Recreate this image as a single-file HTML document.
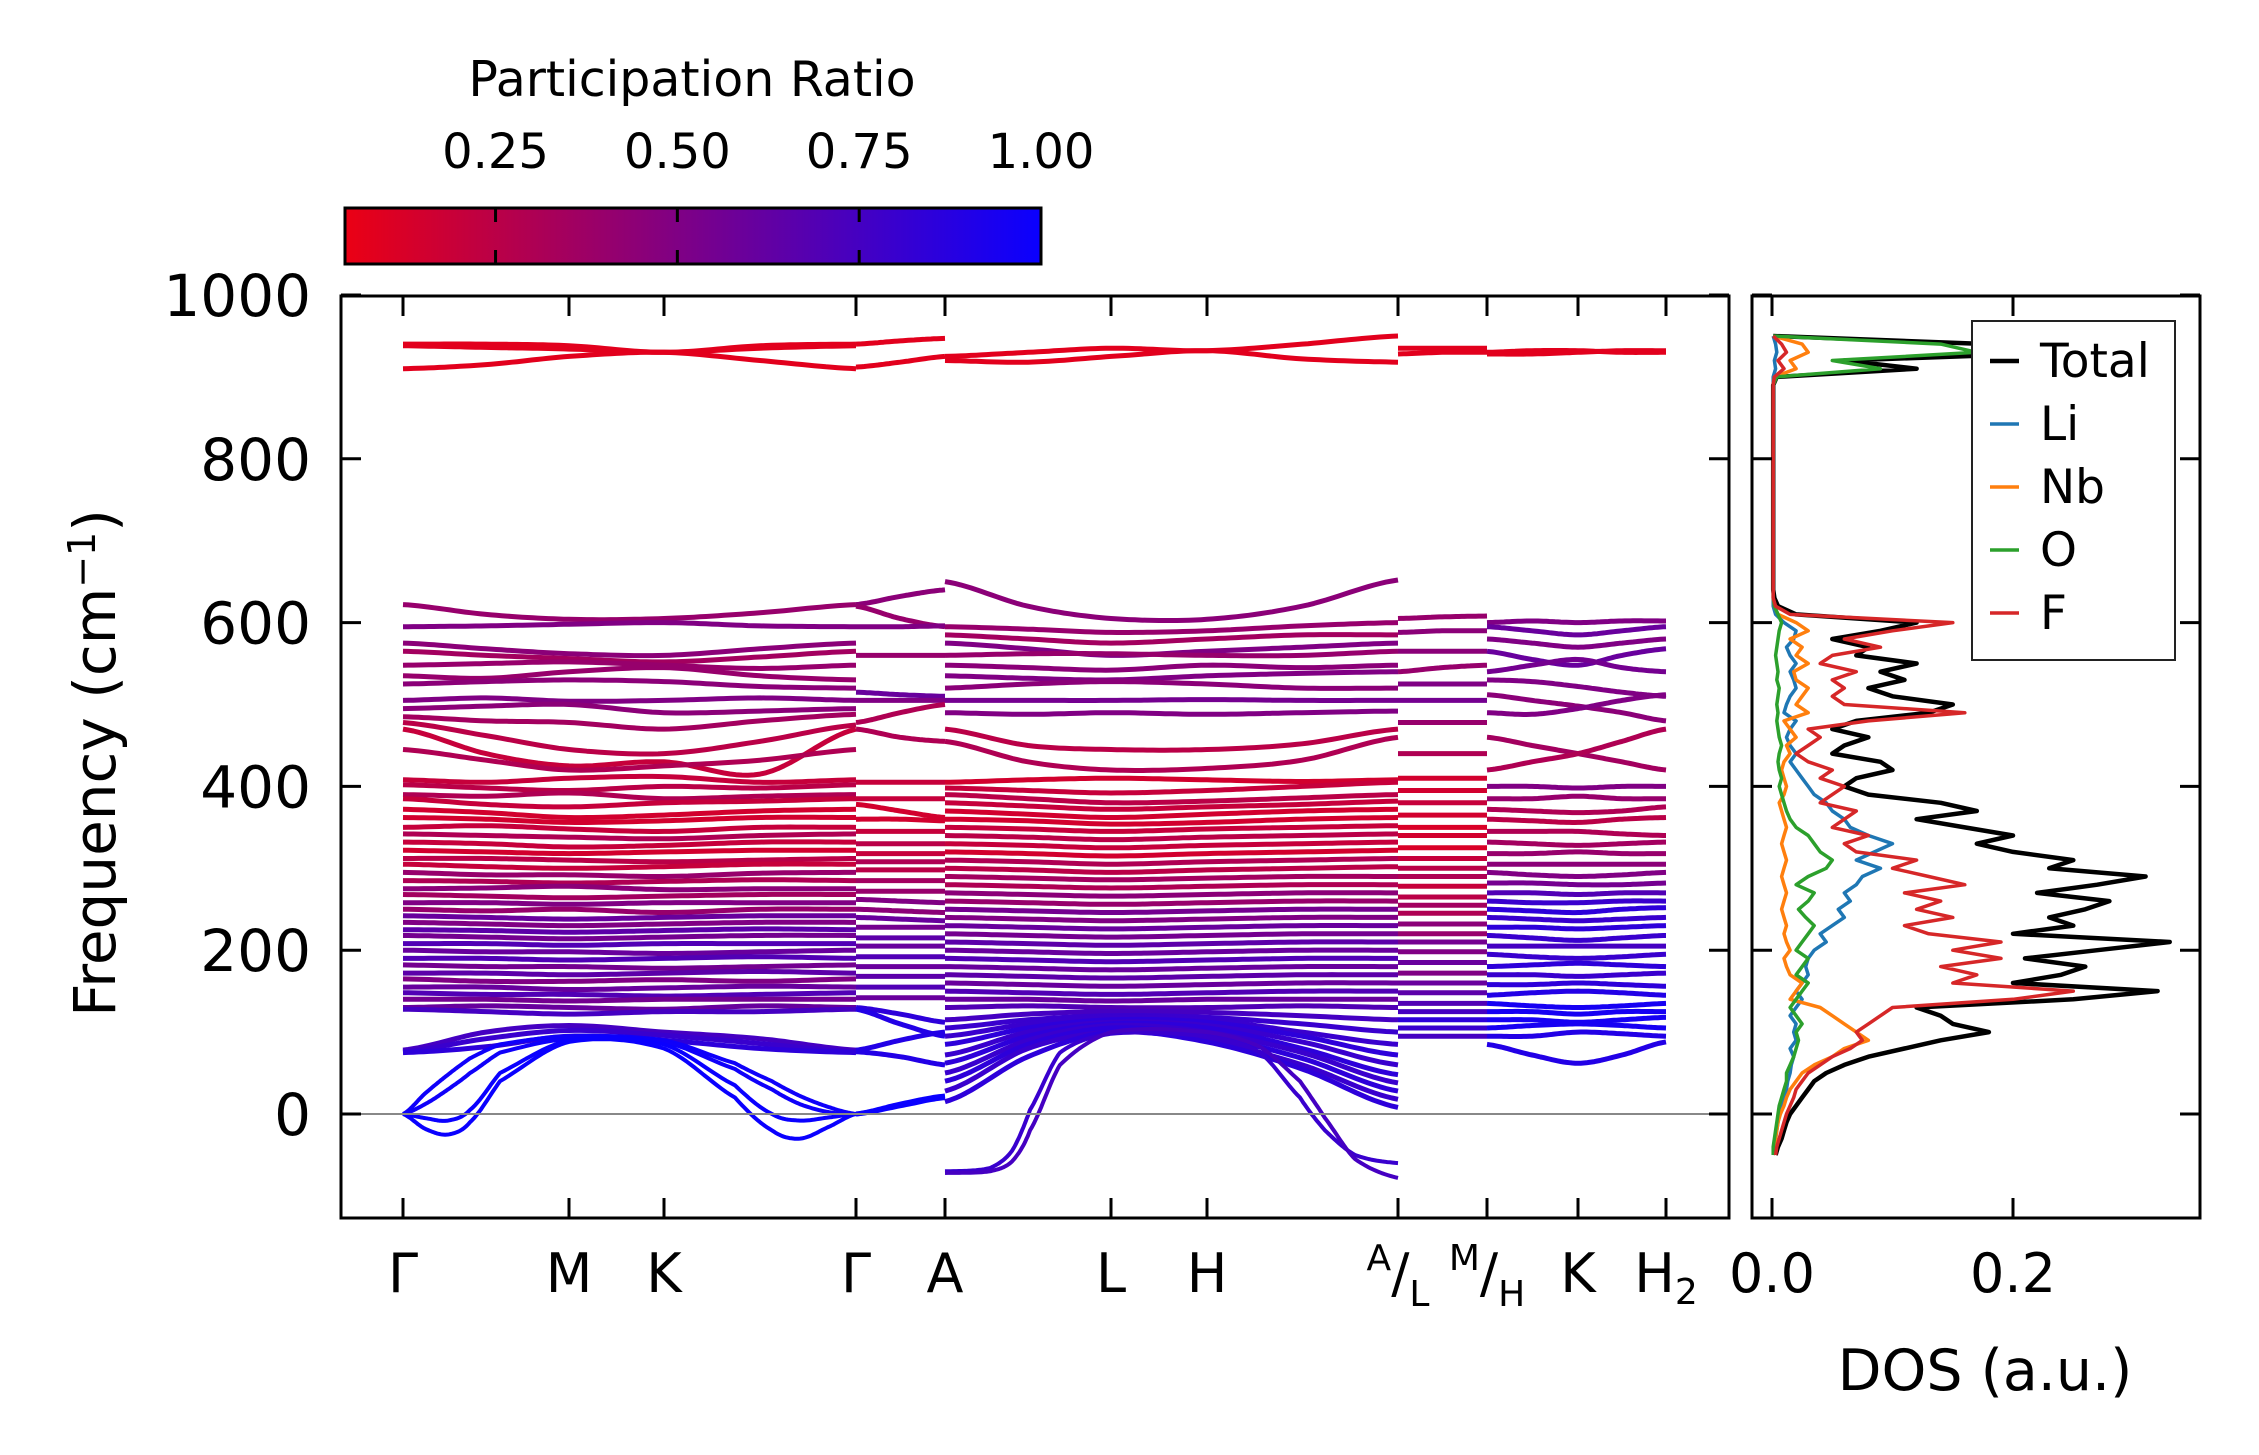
<!DOCTYPE html>
<html><head><meta charset="utf-8"><title>Phonon bands and DOS</title>
<style>
html,body{margin:0;padding:0;background:#fff;}
svg{display:block;font-family:"DejaVu Sans","Liberation Sans",sans-serif;}
</style></head>
<body>
<svg id="fig" width="2259" height="1455" viewBox="0 0 2259 1455" xmlns="http://www.w3.org/2000/svg">
<defs>
<linearGradient id="cbgrad" x1="0" x2="1" y1="0" y2="0">
<stop offset="0" stop-color="rgb(235,0,20)"/><stop offset="1" stop-color="rgb(10,0,255)"/>
</linearGradient>
<clipPath id="mainclip"><rect x="342" y="297" width="1387" height="919"/></clipPath>
<clipPath id="dosclip"><rect x="1753" y="297" width="446" height="919"/></clipPath>
</defs>
<g>
<text x="692" y="96" font-size="49" text-anchor="middle">Participation Ratio</text>
<rect x="345" y="208" width="696" height="56" fill="url(#cbgrad)" stroke="#000" stroke-width="3"/>
<g id="cbticks"></g>
</g>
<g id="main">
<g id="bands" clip-path="url(#mainclip)"></g>
<g id="mainaxes"></g>
</g>
<g id="dos">
<g id="dosl" clip-path="url(#dosclip)"></g>
<g id="dosaxes"></g>
<g>
<rect x="1972" y="321" width="203" height="339" fill="#fff" stroke="#222" stroke-width="2"/>
<g id="legend"></g>
</g>
</g>
<text x="115" y="763" font-size="58" text-anchor="middle" transform="rotate(-90 115 763)">Frequency (cm<tspan dy="-20" font-size="38">−1</tspan><tspan dy="20">)</tspan></text>
<text x="1985" y="1390" font-size="57" text-anchor="middle">DOS (a.u.)</text>
</svg>
<script>
// ---------- data ----------
const pathTicks = [403,569,664,856,945,1111,1207,1398,1487,1578,1666];
const pathLabels = ["Γ","M","K","Γ","A","L","H","A/L","M/H","K","H2"];
const yTicks = [0,200,400,600,800,1000];
const cbTicks = [0.25,0.5,0.75,1.0];
const cbTickLabels = ["0.25","0.50","0.75","1.00"];
const segNodes1 = [403,486,569,664,760,856];
const segNodes1a = [403,425,448,470,500,569,664,735,772,800,830,856];
const segNodes2 = [856,900,945];
const segNodes3 = [945,1028,1111,1207,1302,1398];
const segNodes3b = [945,990,1012,1030,1060,1111,1207,1260,1300,1325,1355,1398];
const segNodes4 = [1398,1442,1487];
const segNodes5 = [1487,1532,1578,1622,1666];
// each band: frequencies at nodes, last value = participation ratio
const seg1 = [
[940,940,938,930,938,940,.08],[938,936,934,930,935,938,.08],[910,915,925,930,920,910,.08],
[622,610,604,605,612,622,.4],[595,596,598,600,596,595,.5],[575,568,562,560,568,575,.45],
[565,560,556,552,558,565,.35],[548,550,552,548,544,548,.4],[535,532,540,545,535,530,.4],
[525,528,530,528,522,520,.45],[505,508,504,505,508,505,.5],[495,498,500,490,492,495,.45],
[485,480,478,470,480,488,.35],[478,462,445,440,455,475,.25],[470,440,425,430,415,470,.2],
[445,432,420,425,432,445,.3],[408,405,410,412,405,408,.2],[402,398,395,400,398,402,.25],
[390,388,392,385,388,390,.3],[385,378,375,380,382,385,.2],[372,368,362,365,370,372,.15],
[362,360,356,358,362,362,.15],[350,352,348,345,350,350,.2],[342,340,338,336,340,342,.3],
[332,330,326,328,332,332,.2],[322,320,318,320,322,322,.15],[312,312,310,308,310,312,.25],
[305,302,300,302,305,305,.2],[295,292,292,290,294,295,.4],[285,284,282,284,286,285,.3],
[275,276,278,274,275,275,.45],[268,266,264,266,268,268,.35],[258,258,256,258,258,258,.5],
[250,248,250,246,250,250,.4],[242,240,238,240,242,242,.6],[234,232,230,232,234,234,.5],
[225,224,222,224,226,225,.65],[218,216,214,216,218,218,.55],[208,208,206,208,208,208,.7],
[200,198,198,196,198,200,.6],[190,190,188,190,192,190,.7],[182,180,180,178,180,182,.55],
[172,172,170,172,174,172,.65],[165,162,162,164,162,165,.5],[155,155,152,154,156,155,.6],
[148,146,146,144,146,148,.7],[140,140,138,140,140,140,.55],[130,132,130,128,132,130,.6],
[128,125,122,125,125,128,.75],[78,100,108,100,92,78,.75],[76,92,102,96,86,76,.8],
[75,82,95,90,80,75,.85]
];
// acoustic branches near Gamma with the small negative loops
const seg1a = [
[0,25,48,68,85,95,90,62,40,22,8,0,.98],
[0,12,30,50,75,92,88,55,30,12,2,0,.98],
[0,-18,-25,-10,40,88,80,20,-20,-30,-15,0,1.0],
[0,-5,-8,5,50,90,85,35,0,-8,-4,0,1.0]
];
const seg2 = [
[940,944,947,.08],[912,918,925,.08],[622,632,640,.45],[620,605,595,.4],[595,595,596,.5],
[560,560,560,.4],[515,512,510,.6],[505,505,505,.5],[478,490,500,.3],[470,460,455,.3],
[405,405,405,.2],[385,385,385,.2],[378,370,362,.15],[360,360,358,.15],[345,345,345,.2],
[330,330,330,.25],[318,318,318,.2],[308,308,308,.3],[298,298,298,.25],[285,285,285,.35],
[272,272,272,.4],[262,260,258,.5],[250,248,246,.45],[240,238,236,.6],[228,228,228,.55],
[215,215,215,.65],[205,205,205,.6],[192,192,192,.7],[180,180,180,.6],[168,168,168,.65],
[155,155,155,.7],[142,142,142,.6],[130,122,112,.85],[128,110,95,.9],[78,90,100,.9],
[76,70,60,.9],[0,12,22,1],[0,10,20,1]
];
const seg3 = [
[925,930,935,932,940,950,.08],[920,918,925,932,922,918,.08],[650,620,605,604,620,652,.45],
[595,592,588,590,596,600,.4],[585,580,575,580,585,585,.35],[575,568,560,565,570,575,.5],
[560,562,562,560,560,565,.4],[548,545,542,548,545,548,.45],[535,532,530,535,538,540,.5],
[520,525,528,525,520,520,.45],[505,505,505,506,505,505,.55],[490,488,490,488,490,492,.5],
[470,450,445,445,452,470,.25],[455,430,420,422,432,460,.3],[405,408,410,408,406,408,.15],
[398,395,392,395,400,405,.2],[390,385,380,382,386,390,.25],[380,376,372,375,378,382,.2],
[370,366,362,366,370,372,.15],[360,358,354,356,360,362,.15],[350,348,345,348,350,352,.2],
[340,338,335,338,340,342,.25],[330,328,325,328,330,332,.2],[320,318,315,318,320,322,.15],
[310,308,305,308,310,312,.3],[300,298,295,298,300,302,.25],[290,288,286,288,290,290,.35],
[280,278,276,278,280,280,.3],[270,268,266,268,270,270,.45],[260,258,256,258,260,260,.4],
[250,248,246,248,250,250,.55],[240,238,236,238,240,240,.5],[230,228,226,228,230,230,.6],
[220,218,216,218,220,220,.55],[210,208,206,208,210,210,.65],[200,198,196,198,200,200,.6],
[190,188,186,188,190,190,.7],[180,178,176,178,180,180,.6],[170,168,166,168,170,170,.65],
[160,158,156,158,160,160,.6],[150,148,146,148,150,150,.7],[140,140,138,140,140,140,.6],
[130,132,130,130,132,130,.7],[115,122,125,124,120,115,.75],[105,115,120,118,110,100,.8],
[95,110,118,115,100,85,.8],[85,105,115,112,95,72,.85],[72,100,112,108,88,60,.8],
[62,95,110,105,80,48,.85],[50,90,108,100,75,38,.8],[40,85,105,95,68,28,.85],
[28,80,100,90,60,18,.8],[15,70,100,88,55,8,.85]
];
// steep negative acoustic branches on A-L-H-A
const seg3b = [
[-70,-66,-45,5,75,98,95,75,20,-20,-50,-60,.8],
[-72,-70,-58,-20,60,100,100,82,40,-5,-55,-78,.75]
];
const seg4 = [
[935,935,935,.08],[928,930,930,.08],[605,607,608,.4],[588,590,590,.45],[565,565,565,.45],
[540,545,548,.4],[525,525,525,.5],[505,505,505,.55],[478,478,478,.4],[440,440,440,.3],
[410,410,410,.15],[395,395,395,.15],[380,380,380,.2],[365,365,365,.15],[350,350,350,.12],
[340,340,340,.15],[325,325,325,.12],[312,312,312,.2],[300,300,300,.25],[290,290,290,.3],
[278,278,278,.2],[265,265,265,.25],[255,255,255,.35],[245,245,245,.3],[232,232,232,.45],
[220,220,220,.4],[210,210,210,.55],[198,198,198,.5],[185,185,185,.6],[172,172,172,.5],
[160,160,160,.6],[148,148,148,.65],[135,135,135,.7],[125,125,125,.75],[115,115,115,.85],
[105,105,105,.8],[95,95,95,.75]
];
const seg5 = [
[930,932,932,930,930,.08],[928,928,930,932,932,.08],[600,602,600,602,602,.5],[595,590,585,590,595,.6],
[580,575,570,575,580,.5],[565,555,548,560,568,.6],[540,548,555,545,540,.55],[530,528,522,515,510,.5],
[512,505,498,490,480,.45],[490,488,495,505,512,.5],[460,450,440,430,420,.35],[420,430,440,455,470,.3],
[400,400,398,400,400,.5],[385,385,388,385,385,.4],[372,370,368,370,375,.3],[360,358,356,360,362,.25],
[345,345,345,342,340,.3],[332,330,328,330,332,.35],[318,318,320,318,318,.4],[305,305,305,305,305,.45],
[295,292,290,292,295,.5],[282,282,280,280,282,.55],[270,270,268,270,270,.7],[260,258,258,260,260,.8],
[250,248,246,250,252,.85],[240,238,236,238,240,.8],[228,228,226,228,230,.85],[218,215,212,215,218,.8],
[205,205,205,205,205,.75],[195,192,190,192,195,.8],[180,182,184,182,180,.85],[170,170,168,170,172,.8],
[158,158,160,158,156,.85],[145,148,150,148,145,.9],[135,132,130,132,135,.95],[125,125,122,125,125,.95],
[115,115,112,115,118,.95],[105,108,110,108,105,.95],[95,95,100,98,95,.9],[85,72,62,72,88,.9]
];
const dosFreqStart = -50, dosFreqStep = 10;
const dosTotal = [.003,.005,.008,.01,.012,
.015,.02,.025,.03,.035,.045,.06,.08,.11,.14,
.18,.15,.14,.12,.25,.32,.2,.24,.26,.21,
.27,.33,.2,.25,.23,.26,.28,.22,.27,.31,
.23,.25,.2,.17,.2,.16,.12,.17,.14,.08,
.06,.07,.1,.09,.05,.06,.08,.05,.07,.13,
.15,.1,.08,.11,.09,.12,.07,.08,.05,.09,
.12,.02,.005,.002,.001,.001,.001,.001,.001,.001,
.001,.001,.001,.001,.001,.001,.001,.001,.001,.001,
.001,.001,.001,.001,.001,.001,.001,.001,.001,.001,
.004,.12,.06,.25,.18,.001];
const dosF = [.003,.004,.006,.008,.01,
.012,.015,.018,.02,.025,.03,.04,.05,.065,.075,
.07,.08,.09,.1,.2,.25,.15,.17,.14,.19,
.15,.19,.13,.11,.15,.12,.14,.11,.16,.13,
.1,.12,.07,.06,.08,.05,.06,.07,.04,.05,
.06,.04,.05,.03,.02,.03,.04,.03,.08,.16,
.06,.05,.06,.05,.07,.04,.05,.09,.06,.1,
.15,.015,.003,.001,.001,.001,.001,.001,.001,.001,
.001,.001,.001,.001,.001,.001,.001,.001,.001,.001,
.001,.001,.001,.001,.001,.001,.001,.001,.001,.001,
.002,.01,.005,.012,.008,.001];
const dosLi = [.001,.002,.003,.004,.005,
.006,.008,.01,.012,.013,.015,.016,.018,.015,.02,
.018,.02,.015,.02,.025,.02,.025,.03,.028,.03,
.035,.045,.04,.05,.06,.055,.065,.06,.07,.075,
.09,.07,.085,.1,.08,.065,.06,.05,.045,.035,
.03,.025,.02,.015,.02,.015,.012,.015,.02,.01,
.012,.015,.02,.018,.015,.02,.015,.012,.018,.02,
.01,.003,.001,.001,.001,.001,.001,.001,.001,.001,
.001,.001,.001,.001,.001,.001,.001,.001,.001,.001,
.001,.001,.001,.001,.001,.001,.001,.001,.001,.001,
.001,.003,.002,.004,.003,.001];
const dosNb = [.001,.002,.003,.004,.005,
.007,.01,.012,.015,.02,.025,.035,.05,.06,.08,
.07,.06,.05,.04,.015,.02,.025,.015,.012,.01,
.015,.012,.01,.012,.01,.008,.01,.012,.01,.008,
.01,.012,.01,.008,.01,.012,.01,.008,.006,.01,
.012,.01,.008,.01,.015,.012,.02,.015,.01,.03,
.02,.025,.03,.02,.018,.03,.02,.025,.015,.03,
.02,.005,.002,.001,.001,.001,.001,.001,.001,.001,
.001,.001,.001,.001,.001,.001,.001,.001,.001,.001,
.001,.001,.001,.001,.001,.001,.001,.001,.001,.001,
.002,.02,.015,.03,.025,.001];
const dosO = [.001,.001,.002,.003,.004,
.005,.006,.008,.01,.012,.012,.015,.018,.02,.022,
.02,.025,.02,.015,.02,.025,.03,.02,.025,.03,
.02,.025,.03,.035,.028,.022,.03,.035,.02,.03,
.045,.05,.04,.035,.03,.02,.015,.012,.01,.008,
.006,.008,.006,.005,.006,.008,.006,.005,.004,.005,
.004,.005,.006,.004,.005,.004,.003,.004,.005,.006,
.008,.005,.002,.001,.001,.001,.001,.001,.001,.001,
.001,.001,.001,.001,.001,.001,.001,.001,.001,.001,
.001,.001,.001,.001,.001,.001,.001,.001,.001,.001,
.004,.09,.05,.17,.14,.001];
const dosXTicks = [0.0,0.2];
const dosXTickLabels = ["0.0","0.2"];
const legendLabels = ["Total","Li","Nb","O","F"];

// ---------- scales ----------
const NS = "http://www.w3.org/2000/svg";
const yScale = f => 1114 - f*0.819;
const dosX = d => 1772 + d*1205;
const cbX = r => 345 + (r-0.043)/0.957*696;
function prColor(r){ const t=Math.max(0,Math.min(1,(r-0.043)/0.957));
  return `rgb(${Math.round(235+(10-235)*t)},0,${Math.round(20+(255-20)*t)})`; }
function mk(tag, attrs, parent){ const e=document.createElementNS(NS,tag); for(const k in attrs) e.setAttribute(k,attrs[k]); parent.appendChild(e); return e; }

// ---------- colorbar ticks ----------
const cbg = document.getElementById('cbticks');
cbTicks.forEach((t,i)=>{
  const x=cbX(t);
  if(t<1){ const l1=mk('line',{x1:x,x2:x,y1:208,y2:222,stroke:'#000','stroke-width':3},cbg);
     
    const l2=mk('line',{x1:x,x2:x,y1:250,y2:264,stroke:'#000','stroke-width':3},cbg);
      }
  const tx=mk('text',{x:x,y:168,'font-size':48,'text-anchor':'middle'},cbg); tx.textContent=cbTickLabels[i];
   
});

// ---------- bands ----------
const bg = document.getElementById('bands');
function drawSeg(nodes, bands, w){
  bands.forEach(b=>{
    const vals=b.slice(0,nodes.length), pr=b[nodes.length];
    const pts=[];
    for(let i=0;i<nodes.length-1;i++){
      const p0=vals[Math.max(0,i-1)], p1=vals[i], p2=vals[i+1], p3=vals[Math.min(nodes.length-1,i+2)];
      const x1=nodes[i], x2=nodes[i+1];
      for(let s=0;s<=16;s++){ const t=s/16;
        const v=0.5*((2*p1)+(-p0+p2)*t+(2*p0-5*p1+4*p2-p3)*t*t+(-p0+3*p1-3*p2+p3)*t*t*t);
        pts.push((x1+(x2-x1)*t).toFixed(1)+','+yScale(v).toFixed(1)); }
    }
    const pl=mk('polyline',{points:pts.join(' '),fill:'none',stroke:prColor(pr),'stroke-width':w||5,'stroke-linejoin':'round'},bg);
     
  });
}
drawSeg(segNodes1,seg1); drawSeg(segNodes1a,seg1a,4); drawSeg(segNodes2,seg2);
drawSeg(segNodes3,seg3); drawSeg(segNodes3b,seg3b,4); drawSeg(segNodes4,seg4); drawSeg(segNodes5,seg5);

// ---------- main axes ----------
const ma = document.getElementById('mainaxes');
const zl=mk('line',{x1:342,x2:1729,y1:yScale(0),y2:yScale(0),stroke:'#888','stroke-width':2},ma);
 
const fr=mk('rect',{x:341,y:296,width:1388,height:922,fill:'none',stroke:'#000','stroke-width':3},ma);
 
yTicks.forEach(v=>{ const y=yScale(v);
  const a=mk('line',{x1:341,x2:361,y1:y,y2:y,stroke:'#000','stroke-width':3},ma);
   
  const b=mk('line',{x1:1709,x2:1729,y1:y,y2:y,stroke:'#000','stroke-width':3},ma);
   
  const t=mk('text',{x:311,y:y+21,'font-size':58,'text-anchor':'end'},ma); t.textContent=String(v);
   
});
pathTicks.forEach((x,i)=>{
  const a=mk('line',{x1:x,x2:x,y1:1198,y2:1218,stroke:'#000','stroke-width':3},ma);
   
  const b=mk('line',{x1:x,x2:x,y1:296,y2:316,stroke:'#000','stroke-width':3},ma);
   
  const lab=pathLabels[i];
  const t=mk('text',{x:x,y:1292,'font-size':54,'text-anchor':'middle'},ma);
   
  if(lab.includes('/')){ const [p,q]=lab.split('/');
    t.innerHTML=`<tspan font-size="36" dy="-22">${p}</tspan><tspan dy="22">/</tspan><tspan font-size="36" dy="14">${q}</tspan>`;
  } else if(lab==='H2'){ t.innerHTML=`H<tspan font-size="36" dy="12">2</tspan>`; }
  else t.textContent=lab;
});

// ---------- DOS ----------
const dl=document.getElementById('dosl');
const dosSeries=[[dosTotal,'#000',4.5],[dosLi,'#1f77b4',3.5],[dosNb,'#ff7f0e',3.5],[dosO,'#2ca02c',3.5],[dosF,'#d62728',3.5]];
dosSeries.forEach(([arr,col,w],k)=>{
  const pts=arr.map((d,i)=>dosX(d).toFixed(1)+','+yScale(dosFreqStart+i*dosFreqStep).toFixed(1));
  const pl=mk('polyline',{points:pts.join(' '),fill:'none',stroke:col,'stroke-width':w,'stroke-linejoin':'round'},dl);
   
});
const da=document.getElementById('dosaxes');
const dfr=mk('rect',{x:1752,y:296,width:448,height:922,fill:'none',stroke:'#000','stroke-width':3},da);
 
yTicks.forEach(v=>{ const y=yScale(v);
  const a=mk('line',{x1:1752,x2:1772,y1:y,y2:y,stroke:'#000','stroke-width':3},da);
   
  const b=mk('line',{x1:2180,x2:2200,y1:y,y2:y,stroke:'#000','stroke-width':3},da);
   
});
dosXTicks.forEach((d,i)=>{ const x=dosX(d);
  const a=mk('line',{x1:x,x2:x,y1:1198,y2:1218,stroke:'#000','stroke-width':3},da);
   
  const b=mk('line',{x1:x,x2:x,y1:296,y2:316,stroke:'#000','stroke-width':3},da);
   
  const t=mk('text',{x:x,y:1292,'font-size':54,'text-anchor':'middle'},da); t.textContent=dosXTickLabels[i];
   
});
const lg=document.getElementById('legend');
dosSeries.forEach(([arr,col,w],k)=>{ const y=361+k*63;
  const l=mk('line',{x1:1990,x2:2019,y1:y,y2:y,stroke:col,'stroke-width':k===0?4.5:3.5},lg);
   
  const t=mk('text',{x:2040,y:y+16,'font-size':47},lg); t.textContent=legendLabels[k];
   
});
</script>
</body></html>
